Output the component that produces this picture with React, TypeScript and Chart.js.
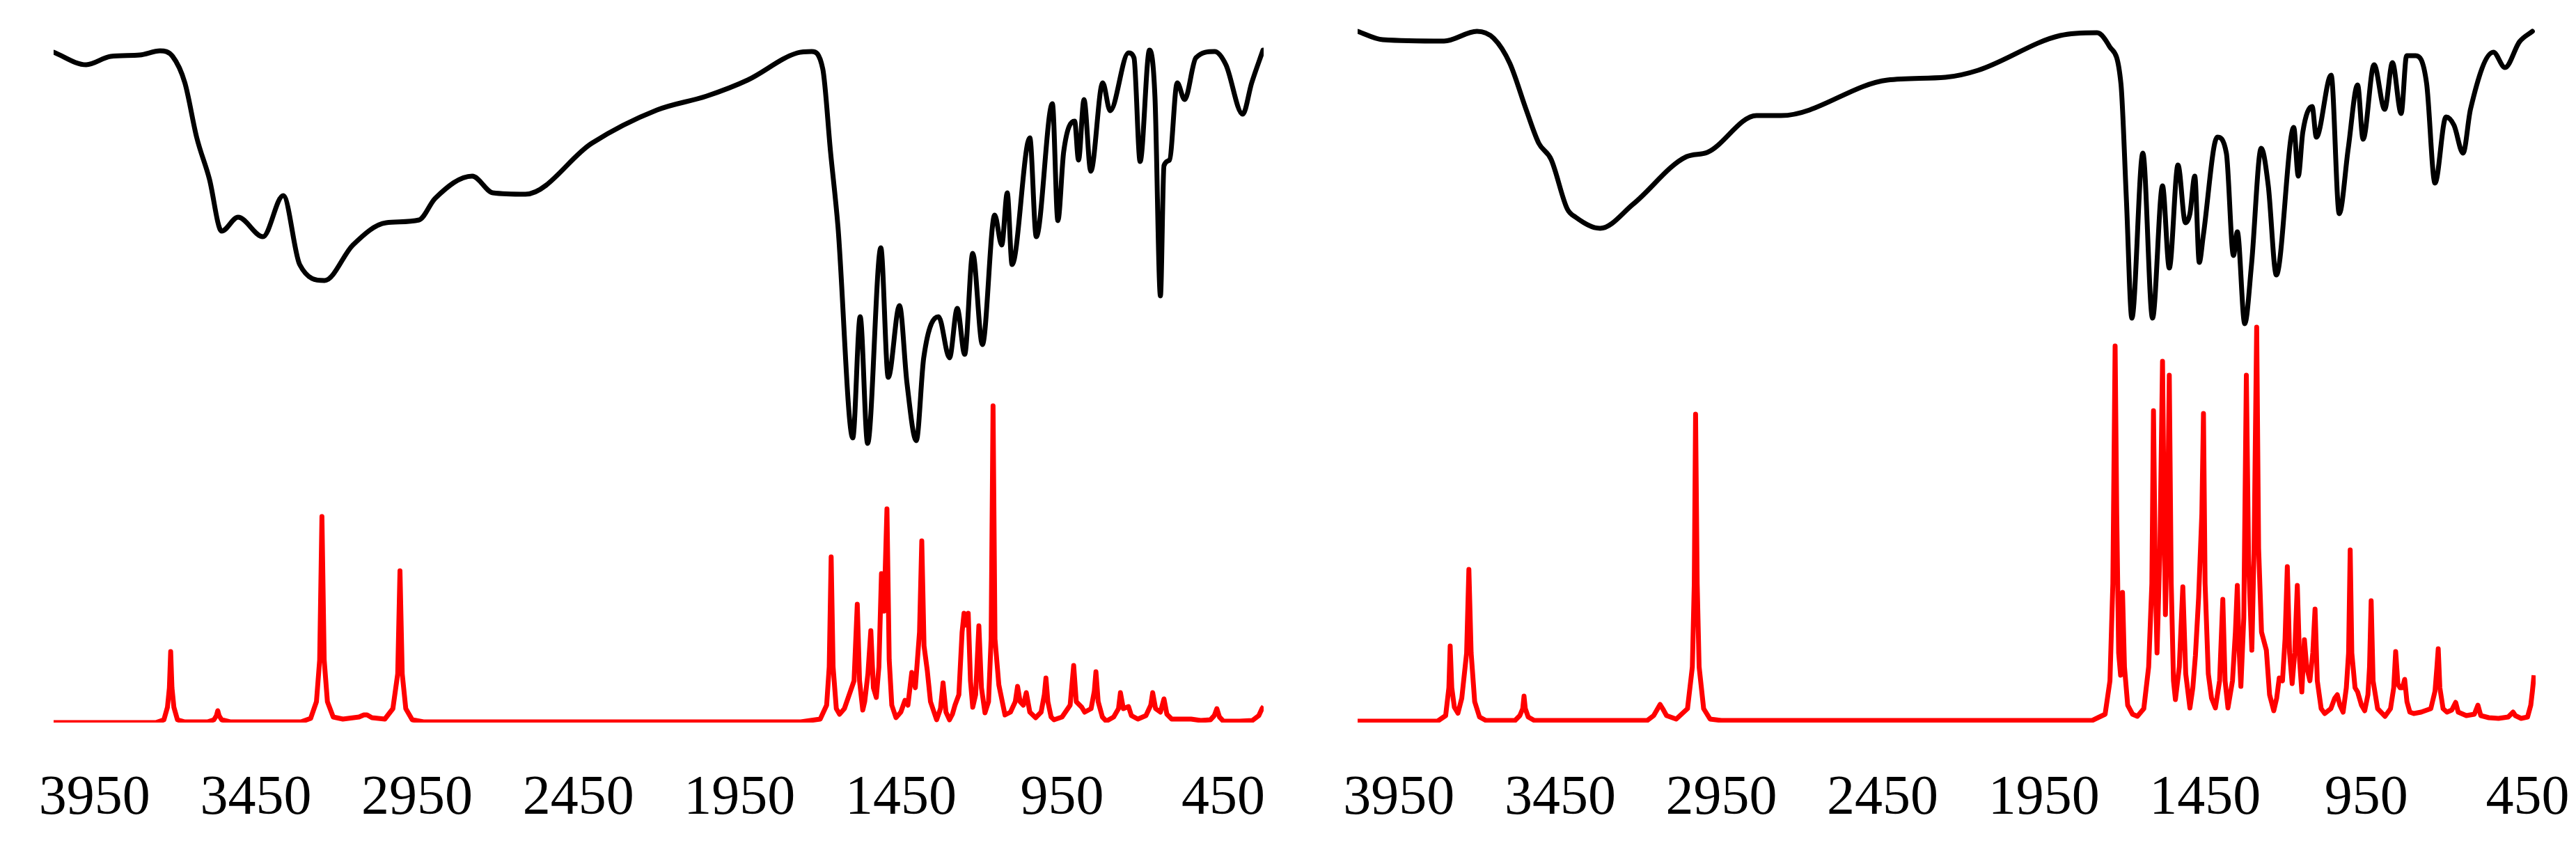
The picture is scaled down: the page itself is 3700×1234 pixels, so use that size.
import React, { useEffect, useRef } from 'react';
import { Chart, registerables } from 'chart.js';

Chart.register(...registerables);

// x-axis tick labels (wavenumber, cm-1)
const tickValues = [3950, 3450, 2950, 2450, 1950, 1450, 950, 450];

// ---------- Left panel: experimental (black) ----------
const leftExpWn = [4077, 3976, 3900, 3810, 3747, 3708, 3670, 3633, 3594, 3556, 3505, 3428, 3365, 3314, 3237, 3149, 3046, 2944, 2894, 2779, 2715, 2614, 2409, 2206, 2052, 1925, 1771, 1726, 1692, 1668, 1645, 1599, 1576, 1553, 1512, 1489, 1454, 1431, 1402, 1379, 1333, 1299, 1275, 1252, 1227, 1197, 1159, 1137, 1120, 1105, 1050, 1030, 980, 963, 945, 911, 899, 882, 861, 824, 801, 744, 727, 708, 679, 662, 645, 634, 617, 593, 570, 535, 477, 442, 390, 362, 327];
const leftExpT = [96.3, 94.5, 95.7, 95.9, 96.5, 95.7, 91.9, 84, 78.1, 70.6, 72.6, 69.8, 75.7, 65.8, 63.5, 68.6, 71.8, 72.2, 75.3, 78.5, 76.1, 75.9, 83.2, 88, 90, 92.3, 96.2, 96.4, 93.9, 82, 71.3, 40.9, 58.3, 40.1, 68.2, 49.6, 59.9, 48.8, 40.5, 52.4, 58.3, 52.4, 59.5, 52.9, 67.4, 54.3, 72.9, 68.6, 76.1, 65.8, 84, 69.8, 88.9, 72.1, 82, 86.4, 80.8, 89.5, 79.2, 91.9, 87.9, 96.2, 95.5, 80.6, 96.6, 89.9, 61.3, 80, 80.8, 91.9, 89.5, 95.5, 96.4, 94.5, 87.4, 91.9, 96.6];

// ---------- Left panel: calculated (red) ----------
const leftCalcWn = [4077, 3760, 3735, 3724, 3718, 3714, 3710, 3704, 3693, 3670, 3600, 3580, 3572, 3568, 3564, 3556, 3530, 3310, 3280, 3262, 3252, 3245, 3238, 3228, 3210, 3180, 3130, 3115, 3105, 3090, 3050, 3025, 3010, 3003, 2996, 2985, 2965, 2930, 1760, 1700, 1680, 1672, 1666, 1660, 1650, 1640, 1625, 1595, 1585, 1578, 1568, 1562, 1552, 1543, 1535, 1526, 1518, 1510, 1502, 1493, 1486, 1478, 1465, 1450, 1437, 1428, 1416, 1405, 1392, 1385, 1378, 1368, 1358, 1339, 1327, 1319, 1310, 1299, 1290, 1282, 1270, 1260, 1254, 1247, 1241, 1234, 1227, 1218, 1208, 1200, 1189, 1178, 1170, 1164, 1158, 1146, 1127, 1110, 1095, 1088, 1080, 1070, 1061, 1050, 1032, 1015, 1005, 1000, 994, 984, 975, 950, 925, 914, 906, 889, 880, 860, 850, 845, 838, 825, 813, 790, 775, 769, 760, 744, 735, 715, 690, 675, 669, 660, 645, 634, 625, 610, 550, 520, 490, 478, 470, 462, 450, 400, 360, 340, 330, 325];
const leftCalcI = [0, 0, 4, 22, 50, 102, 50, 22, 4, 1, 1, 4, 10, 17, 10, 4, 1, 1, 6, 30, 90, 296, 90, 30, 8, 5, 8, 11, 11, 7, 5, 20, 70, 218, 70, 20, 4, 1, 1, 5, 25, 80, 238, 80, 20, 12, 20, 60, 170, 60, 18, 30, 70, 132, 50, 36, 80, 214, 160, 307, 90, 25, 7, 15, 32, 25, 72, 50, 130, 261, 110, 75, 30, 4, 20, 57, 15, 4, 12, 25, 40, 130, 157, 140, 157, 60, 22, 40, 139, 50, 14, 30, 120, 455, 120, 54, 11, 15, 30, 52, 30, 25, 43, 15, 7, 15, 40, 64, 30, 8, 4, 8, 25, 82, 30, 22, 15, 20, 45, 73, 30, 8, 2, 8, 20, 43, 20, 23, 10, 5, 10, 25, 43, 20, 15, 34, 12, 5, 5, 3, 4, 10, 20, 8, 2, 2, 3, 10, 20, 23];

// ---------- Right panel: experimental (black) ----------
const rightExpWn = [4078, 4000, 3810, 3708, 3656, 3606, 3555, 3516, 3478, 3428, 3402, 3326, 3223, 3058, 2994, 2841, 2765, 2435, 2255, 2154, 1899, 1785, 1746, 1711, 1694, 1677, 1643, 1613, 1582, 1561, 1534, 1511, 1497, 1482, 1468, 1456, 1412, 1384, 1362, 1350, 1327, 1306, 1276, 1254, 1229, 1175, 1161, 1147, 1118, 1105, 1059, 1034, 1006, 977, 960, 926, 893, 869, 842, 825, 797, 763, 737, 703, 678, 650, 627, 556, 520, 475, 435];
const rightExpT = [99.3, 98.1, 97.9, 99.3, 98.3, 94.7, 88, 83.2, 80.9, 73.8, 72.6, 71, 74.5, 81.3, 81.9, 87.2, 87.2, 92.3, 92.7, 93.7, 98.7, 99.1, 97.1, 91.8, 75.1, 58.1, 81.8, 58.1, 77.1, 65.3, 80.1, 71.8, 73.1, 78.5, 66.1, 69.8, 84.1, 81.8, 67.1, 70.5, 57.3, 65.8, 82.5, 77.1, 64.3, 85.5, 78.5, 84.8, 88.5, 84.1, 93, 73.1, 82.5, 91.6, 83.8, 94.5, 88.1, 94.8, 87.5, 95.8, 95.8, 91.8, 77.5, 87, 85.8, 81.8, 88.1, 96.3, 94.1, 97.8, 99.3];

// ---------- Right panel: calculated (red) ----------
const rightCalcWn = [4078, 3830, 3805, 3795, 3791, 3786, 3778, 3767, 3755, 3740, 3733, 3726, 3715, 3700, 3680, 3590, 3575, 3566, 3562, 3558, 3549, 3530, 3180, 3160, 3145, 3140, 3132, 3120, 3090, 3055, 3040, 3034, 3030, 3025, 3019, 3005, 2985, 2950, 1800, 1760, 1745, 1736, 1729, 1724, 1718, 1712, 1706, 1700, 1690, 1675, 1660, 1640, 1625, 1615, 1610, 1604, 1599, 1590, 1582, 1577, 1573, 1566, 1561, 1555, 1548, 1542, 1530, 1519, 1510, 1497, 1488, 1480, 1470, 1460, 1455, 1450, 1440, 1430, 1418, 1405, 1395, 1388, 1379, 1365, 1356, 1350, 1344, 1339, 1330, 1322, 1315, 1305, 1298, 1290, 1284, 1275, 1260, 1250, 1237, 1228, 1220, 1210, 1202, 1195, 1188, 1180, 1172, 1164, 1157, 1150, 1142, 1135, 1125, 1116, 1109, 1102, 1090, 1079, 1060, 1048, 1040, 1032, 1022, 1012, 1005, 1000, 995, 985, 977, 965, 955, 945, 940, 935, 929, 915, 892, 875, 865, 859, 852, 845, 838, 831, 824, 815, 803, 780, 750, 737, 731, 727, 722, 712, 700, 685, 673, 665, 640, 615, 604, 595, 570, 540, 510, 495, 488, 470, 450, 440, 435, 430];
const rightCalcI = [2, 2, 10, 50, 110, 50, 22, 13.5, 35, 100, 220, 100, 30, 8, 3, 3, 10, 20, 38, 20, 8, 3, 3, 10, 22, 26, 20, 10, 5, 20, 80, 200, 443, 200, 80, 20, 5, 3, 3, 12, 60, 200, 541, 300, 100, 68, 187, 80, 25, 12, 9, 20, 80, 200, 448, 200, 100, 250, 519, 300, 155, 300, 499, 200, 60, 33, 80, 195, 70, 21, 50, 96, 180, 300, 444, 200, 70, 35, 21, 60, 177, 60, 21, 60, 130, 197, 100, 52, 150, 499, 230, 104, 250, 568, 250, 130, 104, 40, 17, 35, 64, 60, 120, 224, 100, 56, 100, 197, 90, 44, 119, 80, 60, 100, 163, 60, 20, 13, 20, 35, 40, 25, 15, 50, 100, 248, 100, 50, 44, 25, 17, 40, 80, 175, 60, 20, 9, 20, 50, 102, 55, 50, 50, 62, 30, 15, 13, 15, 20, 45, 80, 106, 50, 20, 15, 18, 29, 15, 10, 12, 25, 10, 7, 6, 8, 15, 10, 6, 8, 25, 45, 68];

function toPoints(xs: number[], ys: number[]) {
  return xs.map((x, i) => ({ x, y: ys[i] }));
}

type PanelProps = {
  expWn: number[];
  expT: number[];
  calcWn: number[];
  calcI: number[];
  xMin: number;
  xMax: number;
  padLeft: number;
  padRight: number;
};

const CANVAS_W = 1850;
const CANVAS_H = 1234;

function Panel({ expWn, expT, calcWn, calcI, xMin, xMax, padLeft, padRight }: PanelProps) {
  const ref = useRef<HTMLCanvasElement>(null);
  useEffect(() => {
    if (!ref.current) return;
    const chart = new Chart(ref.current, {
      type: 'line',
      data: {
        datasets: [
          {
            label: 'Experimental',
            data: toPoints(expWn, expT),
            borderColor: '#000000',
            borderWidth: 7,
            pointRadius: 0,
            yAxisID: 'yT',
            cubicInterpolationMode: 'monotone',
            borderJoinStyle: 'round',
            borderCapStyle: 'round',
          },
          {
            label: 'Calculated',
            data: toPoints(calcWn, calcI),
            borderColor: '#ff0000',
            borderWidth: 7,
            pointRadius: 0,
            yAxisID: 'yI',
            tension: 0,
            borderJoinStyle: 'round',
          },
        ],
      },
      options: {
        responsive: false,
        animation: false,
        events: [],
        layout: { padding: { left: padLeft, right: padRight, top: 38, bottom: 38 } },
        plugins: { legend: { display: false }, tooltip: { enabled: false } },
        scales: {
          x: {
            type: 'linear',
            reverse: true,
            min: xMin,
            max: xMax,
            afterBuildTicks: (axis: any) => {
              axis.ticks = tickValues.map((v) => ({ value: v }));
            },
            afterFit: (axis: any) => {
              axis.height = 158;
            },
            ticks: {
              autoSkip: false,
              maxRotation: 0,
              padding: 0,
              color: '#000000',
              font: { family: "'Liberation Serif', 'Times New Roman', serif", size: 80, lineHeight: 2.75 },
              callback: (v: any) => String(v),
            },
            grid: { display: false, drawTicks: false },
            border: { display: false },
          },
          yT: { type: 'linear', display: false, min: 0, max: 100 },
          yI: { type: 'linear', display: false, min: 0, max: 1000 },
        },
      },
    } as any);
    return () => chart.destroy();
  }, []);
  return <canvas ref={ref} width={CANVAS_W} height={CANVAS_H} style={{ width: CANVAS_W, height: CANVAS_H, display: 'block' }} />;
}

export default function App() {
  return (
    <div style={{ position: 'absolute', left: 0, top: 0, width: 3700, height: 1234, overflow: 'hidden', background: '#ffffff' }}>
      <div style={{ position: 'absolute', left: 0, top: 0 }}>
        <Panel expWn={leftExpWn} expT={leftExpT} calcWn={leftCalcWn} calcI={leftCalcI} xMin={325} xMax={4077} padLeft={77} padRight={35} />
      </div>
      <div style={{ position: 'absolute', left: 1850, top: 0 }}>
        <Panel expWn={rightExpWn} expT={rightExpT} calcWn={rightCalcWn} calcI={rightCalcI} xMin={425} xMax={4078} padLeft={100} padRight={58} />
      </div>
    </div>
  );
}
